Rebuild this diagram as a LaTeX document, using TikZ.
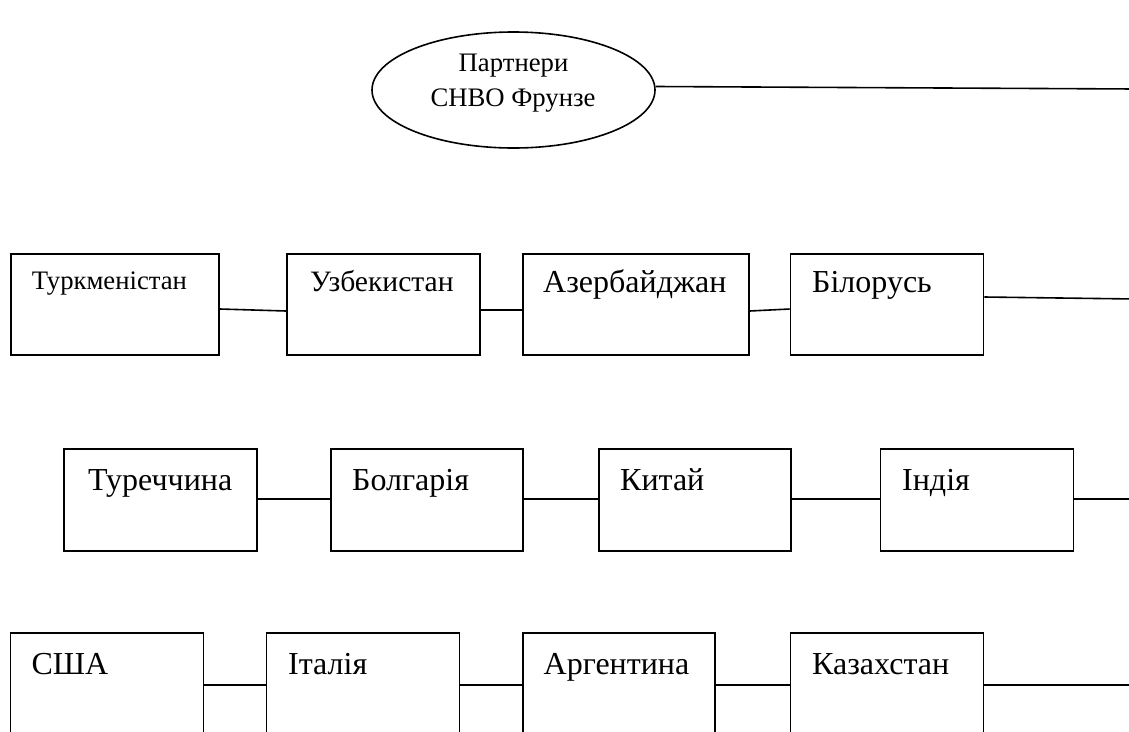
\documentclass[tikz,border=0pt]{standalone}
\usepackage{fontspec}
\setmainfont{Liberation Serif}
\usetikzlibrary{shapes.geometric}
\tikzset{
  cbox/.style={draw=black, line width=1.6pt, rectangle, inner sep=0pt},
  lbl/.style={anchor=base west, inner sep=0pt, font=\fontsize{32}{34}\selectfont},
  mlbl/.style={anchor=base west, inner sep=0pt, font=\fontsize{29.6}{32}\selectfont},
  slbl/.style={anchor=base west, inner sep=0pt, font=\fontsize{26.7}{28}\selectfont},
  elbl/.style={anchor=base, inner sep=0pt, font=\fontsize{26.7}{28}\selectfont},
  conn/.style={draw=black, line width=1.6pt},
}
\begin{document}
\begin{tikzpicture}[x=1pt,y=-1pt]
\useasboundingbox (0,0) rectangle (1129,731);
\clip (0,0) rectangle (1129,731);
% ellipse
\node[draw=black, line width=1.6pt, ellipse, minimum width=283pt, minimum height=116pt, inner sep=0pt] (el) at (513.5,90) {};
\node[elbl] (e1) at (513.5,71.7) {Партнери};
\node[elbl] (e2) at (513,106) {СНВО Фрунзе};
\coordinate (r0) at (1135,89);
% row 1
\node[cbox, minimum width=208pt, minimum height=101pt] (t1) at (115,304.5) {};
\node[cbox, minimum width=193pt, minimum height=101pt] (t2) at (383.5,304.5) {};
\node[cbox, minimum width=226pt, minimum height=101pt] (t3) at (636,304.5) {};
\node[cbox, minimum width=193pt, minimum height=101pt] (t4) at (887,304.5) {};
\coordinate (r1) at (1135,299);
\node[slbl] (l1) at (31.7,289.5) {Туркменістан};
\node[mlbl] (l2) at (310,291.7) {Узбекистан};
\node[lbl] (l3) at (543,292) {Азербайджан};
\node[lbl] (l4) at (812,292) {Білорусь};
% row 2
\node[cbox, minimum width=193pt, minimum height=102pt] (u1) at (160.5,500) {};
\node[cbox, minimum width=192pt, minimum height=102pt] (u2) at (427,500) {};
\node[cbox, minimum width=192pt, minimum height=102pt] (u3) at (695,500) {};
\node[cbox, minimum width=193pt, minimum height=102pt] (u4) at (977,500) {};
\coordinate (r2) at (1135,499);
\node[lbl] (m1) at (88,490) {Туреччина};
\node[lbl] (m2) at (352,490) {Болгарія};
\node[lbl] (m3) at (620,490) {Китай};
\node[lbl] (m4) at (902,490) {Індія};
% row 3
\node[cbox, minimum width=193pt, minimum height=100pt] (v1) at (107,683) {};
\node[cbox, minimum width=193pt, minimum height=100pt] (v2) at (363,683) {};
\node[cbox, minimum width=192.5pt, minimum height=100pt] (v3) at (619,683) {};
\node[cbox, minimum width=193pt, minimum height=100pt] (v4) at (887,683) {};
\coordinate (r3) at (1135,685);
\node[lbl] (n1) at (31.4,674) {США};
\node[lbl] (n2) at (288,674) {Італія};
\node[lbl] (n3) at (543.5,674) {Аргентина};
\node[lbl] (n4) at (812,674) {Казахстан};
% connectors
\draw[conn] ([yshift=3.5pt]el.east) -- (r0);
\draw[conn] ([yshift=-4.5pt]t1.east) -- ([yshift=-6.5pt]t2.west);
\draw[conn] ([yshift=-5.5pt]t2.east) -- ([yshift=-5.5pt]t3.west);
\draw[conn] ([yshift=-6.5pt]t3.east) -- ([yshift=-4.5pt]t4.west);
\draw[conn] ([yshift=7.5pt]t4.east) -- (r1);
\draw[conn] ([yshift=1pt]u1.east) -- ([yshift=1pt]u2.west);
\draw[conn] ([yshift=1pt]u2.east) -- ([yshift=1pt]u3.west);
\draw[conn] ([yshift=1pt]u3.east) -- ([yshift=1pt]u4.west);
\draw[conn] ([yshift=1pt]u4.east) -- (r2);
\draw[conn] ([yshift=-2pt]v1.east) -- ([yshift=-2pt]v2.west);
\draw[conn] ([yshift=-2pt]v2.east) -- ([yshift=-2pt]v3.west);
\draw[conn] ([yshift=-2pt]v3.east) -- ([yshift=-2pt]v4.west);
\draw[conn] ([yshift=-2pt]v4.east) -- (r3);
\end{tikzpicture}
\end{document}
